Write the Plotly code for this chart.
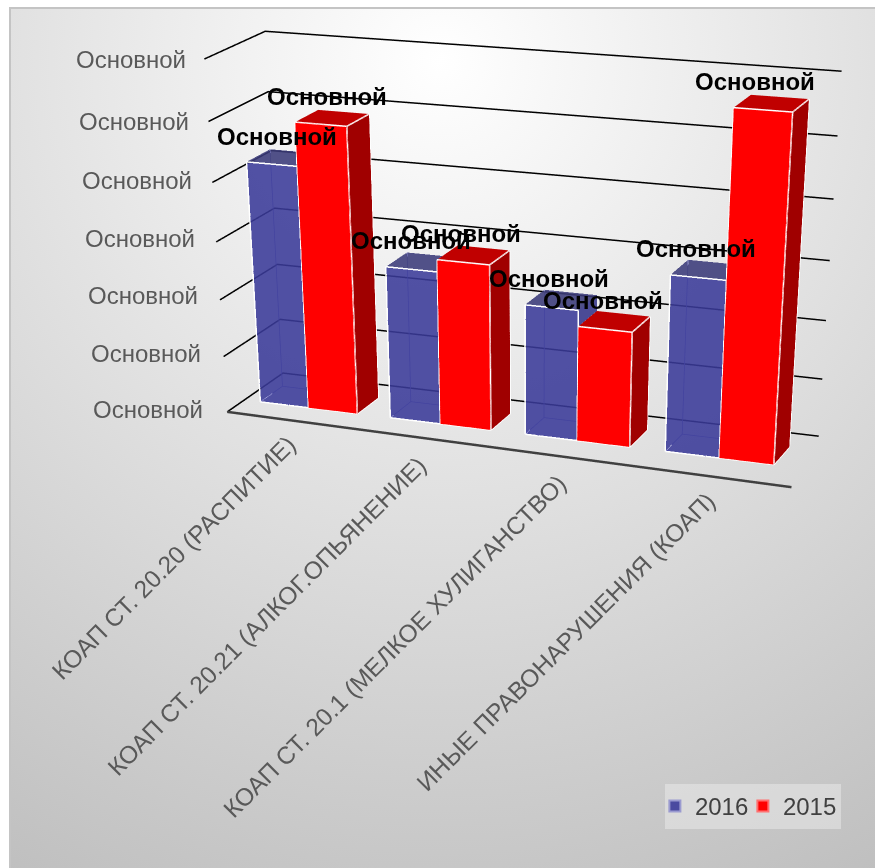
import plotly.graph_objects as go, urllib.parse

categories = ["КОАП СТ. 20.20 (РАСПИТИЕ)", "КОАП СТ. 20.21 (АЛКОГ.ОПЬЯНЕНИЕ)",
              "КОАП СТ. 20.1 (МЕЛКОЕ ХУЛИГАНСТВО)", "ИНЫЕ ПРАВОНАРУШЕНИЯ (КОАП)"]
series_2016 = [4.204, 2.654, 2.25, 2.992]
series_2015 = [4.93, 2.861, 1.979, 5.697]
value_ticks = [0, 1, 2, 3, 4, 5, 6]
tick_label = "Основной"

W, H = 875, 2154   # taller scene, cropped to the window: narrows the 3D perspective
BAR_Y = (.3, .7)
I = [0, 0, 1, 1, 4, 4]; J = [1, 5, 2, 6, 5, 6]; K = [5, 4, 6, 5, 6, 7]
fig = go.Figure()

def box(x0, x1, z):
    y0, y1 = BAR_Y
    return [x0, x1, x1, x0, x0, x1, x1, x0], [y0, y0, y1, y1, y0, y0, y1, y1], [0, 0, 0, 0, z, z, z, z]

def segs(xs, ys, zs, pairs, color, width):
    ex = []; ey = []; ez = []
    for a, b in pairs:
        ex += [xs[a], xs[b], None]; ey += [ys[a], ys[b], None]; ez += [zs[a], zs[b], None]
    fig.add_trace(go.Scatter3d(x=ex, y=ey, z=ez, mode="lines", line=dict(color=color, width=width), showlegend=False, hoverinfo="skip"))

def bar(x0, x1, v, front, side, top, op, edges, inner):
    xs, ys, zs = box(x0, x1, v)
    if inner:
        segs(xs, ys, zs, [(3, 7), (3, 0), (3, 2)], "#8080c8", 1.5)
    fig.add_trace(go.Mesh3d(x=xs, y=ys, z=zs, i=I, j=J, k=K, facecolor=[front, front, side, side, top, top], opacity=op,
                            flatshading=True, showlegend=False, hoverinfo="skip",
                            lighting=dict(ambient=1, diffuse=0, specular=0, roughness=1, fresnel=0)))
    segs(xs, ys, zs, edges, "white", 3)

for v in value_ticks:
    fig.add_trace(go.Scatter3d(x=[0, 0, 4], y=[0, 1, 1], z=[v, v, v], mode="lines", line=dict(color="black", width=3), showlegend=False, hoverinfo="skip"))
fig.add_trace(go.Scatter3d(x=[0, 4.1], y=[0, -.1], z=[0, 0], mode="lines", line=dict(color="#404040", width=5), showlegend=False, hoverinfo="skip"))

blue_edges = [(0, 1), (1, 5), (5, 4), (4, 0)]
red_edges = [(0, 1), (1, 5), (5, 4), (4, 0), (5, 6), (1, 2), (2, 6)]
for i in range(4):
    bar(i + .125, i + .5, series_2016[i], "#3a3a98", "#34348a", "#3a3a78", .88, blue_edges, True)
    bar(i + .5, i + .875, series_2015[i], "#ff0000", "#a00000", "#c00000", 1, red_edges, False)
for name, c, lc in [("2016", "#4a4aa0", "#9a9ad0"), ("2015", "#ff0000", "#ff7070")]:
    fig.add_trace(go.Scatter3d(x=[None], y=[None], z=[None], mode="markers", name=name,
                               marker=dict(symbol="square", size=11, color=c, line=dict(color=lc, width=2))))

ann = []
tf = dict(family="Liberation Sans", size=24, color="#595959")
tick_dx = [-22, -21, -20, -19, -18, -17, -16]
tick_dy = [2, 3, 4, 3, 2, 0, 0]
for v, dx, dy in zip(value_ticks, tick_dx, tick_dy):
    ann.append(dict(x=0, y=0, z=v, text=tick_label, showarrow=False, xanchor="right", xshift=dx, yshift=dy, font=tf))
cat_dx = [12, 9, 11, 17]
cat_dy = [-7, -13, -14, -13]
for i, c in enumerate(categories):
    ann.append(dict(x=i + .5, y=0, z=0, text=c, showarrow=False, textangle=-45, xanchor="right", yanchor="top",
                    xshift=cat_dx[i], yshift=cat_dy[i], font=dict(family="Liberation Sans", size=24.5, color="#595959")))
lf = dict(family="Liberation Sans", size=24, color="black", weight="bold")
blue_dx = [-6, -11, -12, -11]
red_dx = [-6, -13, -12, -17]
for i in range(4):
    ann.append(dict(x=i + .31, y=.5, z=series_2016[i], text=tick_label, showarrow=False, yanchor="bottom", xshift=blue_dx[i], yshift=6, font=lf))
    ann.append(dict(x=i + .69, y=.5, z=series_2015[i], text=tick_label, showarrow=False, yanchor="bottom", xshift=red_dx[i], yshift=6, font=lf))

hid = dict(showgrid=False, showline=False, zeroline=False, showticklabels=False, showbackground=False, ticks="", title="", showspikes=False)
svg = ('<svg xmlns="http://www.w3.org/2000/svg" width="875" height="868"><defs><radialGradient id="g" gradientUnits="userSpaceOnUse" cx="440" cy="60" r="950">'
       '<stop offset="0" stop-color="#ffffff"/><stop offset="1" stop-color="#bdbdbd"/></radialGradient></defs>'
       '<rect width="875" height="868" fill="#ffffff"/><rect x="10" y="8" width="870" height="870" fill="url(#g)" stroke="#c4c4c4" stroke-width="2"/></svg>')
src = "data:image/svg+xml," + urllib.parse.quote(svg)

fig.update_layout(
    width=W, height=H, margin=dict(l=0, r=0, t=0, b=0), paper_bgcolor="rgba(0,0,0,0)",
    images=[dict(source=src, xref="paper", yref="paper", x=0, y=1, sizex=1, sizey=868 / H, xanchor="left", yanchor="top", sizing="stretch", layer="below")],
    legend=dict(orientation="h", x=.961, y=1 - 829 / H, xanchor="right", yanchor="bottom", entrywidth=53, indentation=-10,
                bgcolor="rgba(235,235,235,.5)", font=dict(family="Liberation Sans", size=24, color="#404040")),
    scene=dict(domain=dict(x=[0, 1], y=[0, 1]), aspectmode="manual", aspectratio=dict(x=1.8777, y=.5376, z=1.2),
               camera=dict(eye=dict(x=2.704, y=-6.913, z=2.054), center=dict(x=1.43, y=-3.984, z=-.025),
                           up=dict(x=-.749, y=1.831, z=1), projection=dict(type="perspective")),
               xaxis=dict(range=[-.2, 4.2], **hid), yaxis=dict(range=[-.2, 1.2], **hid), zaxis=dict(range=[-.6, 6.6], **hid),
               annotations=ann, bgcolor="rgba(0,0,0,0)"))
fig.write_html("out.html", config=dict(displayModeBar=False),
               post_script="document.body.style.margin=0;document.documentElement.style.overflow='hidden';document.body.style.overflow='hidden';")
